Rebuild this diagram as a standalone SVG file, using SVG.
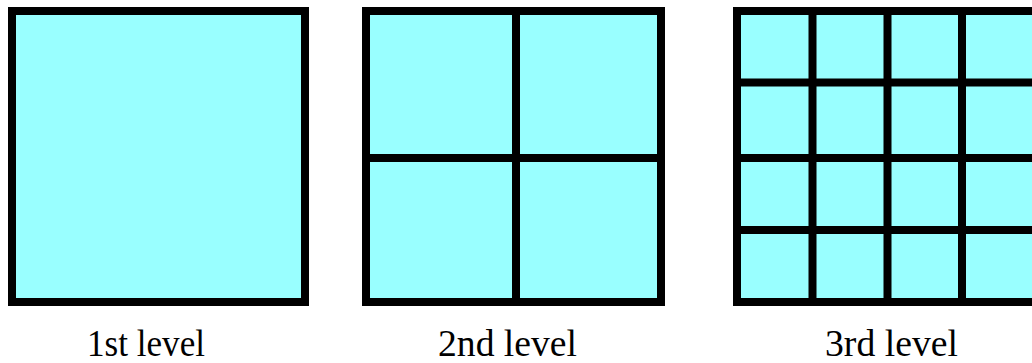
<svg xmlns="http://www.w3.org/2000/svg" width="1032" height="363" viewBox="0 0 1032 363">
<style>
.box{fill:#99ffff;stroke:#000;stroke-width:8}
.ln{stroke:#000;stroke-width:8;fill:none}
.lbl{font-family:"Liberation Serif",serif;font-size:38px;fill:#000}
</style>
<rect width="1032" height="363" fill="#fff"/>
<g id="level1">
<rect class="box" x="12" y="11" width="293" height="291"/>
<text class="lbl" x="87" y="356" textLength="118" lengthAdjust="spacingAndGlyphs">1st level</text>
</g>
<g id="level2">
<rect class="box" x="366" y="11" width="295" height="291"/>
<path class="ln" d="M516 11V302M366 158H661"/>
<text class="lbl" x="438" y="356" textLength="139" lengthAdjust="spacingAndGlyphs">2nd level</text>
</g>
<g id="level3">
<rect class="box" x="737" y="11" width="300" height="291"/>
<path class="ln" d="M812.5 11V302M887.5 11V302M962 11V302M737 82.5H1037M737 158H1037M737 230H1037"/>
<text class="lbl" x="825" y="356" textLength="133" lengthAdjust="spacingAndGlyphs">3rd level</text>
</g>
</svg>
